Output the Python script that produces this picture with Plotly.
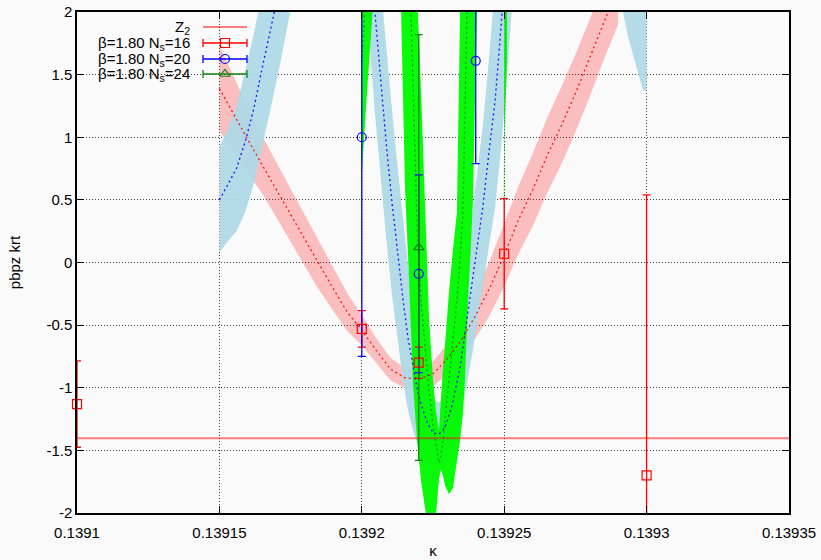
import plotly.graph_objects as go

# ---------------- data ----------------
z2_level = -1.404

# measured points (beta=1.80)
n16_kappa = [0.13910, 0.13920, 0.13922, 0.13925, 0.13930]
n16_value = [-1.13, -0.53, -0.80, 0.07, -1.70]
n16_error = [0.345, 0.145, 0.125, 0.44, 2.24]

n20_kappa = [0.13920, 0.13922, 0.13924]
n20_value = [1.00, -0.09, 1.61]
n20_error = [1.75, 0.79, 0.82]

n24_kappa = [0.13922]
n24_value = [0.12]
n24_error = [1.70]

# reweighted curve N_s=16 (centre and error)
rw16_kappa = [0.139150, 0.139155, 0.139160, 0.139165, 0.139170, 0.139175, 0.139180,
              0.139185, 0.139190, 0.139195, 0.139200, 0.139205, 0.139210, 0.139215,
              0.139220, 0.139225, 0.139230, 0.139235, 0.139240, 0.139245, 0.139250,
              0.139255, 0.139260, 0.139265, 0.139270, 0.139275, 0.139280, 0.139285,
              0.139290]
rw16_mid = [1.39, 1.18, 0.98, 0.78, 0.58, 0.38, 0.18, -0.02, -0.21, -0.40, -0.54,
            -0.70, -0.85, -0.92, -0.93, -0.89, -0.77, -0.62, -0.42, -0.20, 0.06,
            0.34, 0.58, 0.85, 1.09, 1.35, 1.63, 1.92, 2.20]
rw16_err = [0.34, 0.30, 0.26, 0.23, 0.22, 0.21, 0.21, 0.20, 0.18, 0.15, 0.12,
            0.10, 0.09, 0.08, 0.08, 0.10, 0.12, 0.15, 0.18, 0.22, 0.25,
            0.27, 0.29, 0.30, 0.31, 0.31, 0.31, 0.30, 0.30]

# reweighted curve N_s=20, three branches
rw20a_kappa = [0.139150, 0.139153, 0.139156, 0.139159, 0.139162, 0.139165,
               0.139168, 0.139171, 0.139175, 0.139180]
rw20a_mid = [0.50, 0.62, 0.75, 0.96, 1.22, 1.55, 1.85, 2.15, 2.60, 3.20]
rw20a_err = [0.42, 0.45, 0.50, 0.56, 0.60, 0.62, 0.62, 0.60, 0.60, 0.60]

rw20b_kappa = [0.1391994, 0.1392015, 0.1392032, 0.1392046, 0.1392064, 0.1392085,
               0.1392106, 0.1392124, 0.1392145, 0.1392162, 0.1392180, 0.1392197,
               0.1392215, 0.1392232, 0.1392250, 0.1392271, 0.1392292, 0.1392317,
               0.1392345, 0.1392369, 0.1392387, 0.1392404, 0.1392426, 0.1392447,
               0.1392468, 0.1392485, 0.1392503, 0.1392520, 0.1392538]
rw20b_mid = [4.09, 3.13, 2.41, 2.00, 1.49, 0.97, 0.48, 0.10, -0.30, -0.60, -0.84,
             -1.04, -1.18, -1.29, -1.36, -1.37, -1.32, -1.14, -0.84, -0.46, -0.18,
             0.10, 0.46, 0.89, 1.29, 1.77, 2.29, 2.81, 3.37]
rw20b_err = [0.80, 0.80, 0.80, 0.80, 0.78, 0.76, 0.74, 0.70, 0.65, 0.58, 0.50,
             0.42, 0.35, 0.30, 0.26, 0.25, 0.27, 0.33, 0.42, 0.50, 0.56,
             0.60, 0.65, 0.75, 0.85, 0.95, 1.00, 1.00, 1.00]

rw20c_kappa = [0.1392900, 0.1392917, 0.1392935, 0.1392952, 0.1392970, 0.1392987, 0.1393000]
rw20c_mid = [3.00, 2.90, 2.70, 2.56, 2.42, 2.28, 2.26]
rw20c_err = [0.90, 0.90, 0.90, 0.90, 0.90, 0.90, 0.90]

# reweighted curve N_s=24, three branches (centre, lower, upper)
rw24a_kappa = [0.1392000, 0.1392015, 0.1392030, 0.1392045, 0.1392060]
rw24a_mid = [1.60, 2.30, 2.90, 3.50, 4.10]
rw24a_lo = [0.69, 1.25, 1.81, 2.25, 2.73]
rw24a_hi = [2.50, 3.30, 4.00, 4.70, 5.40]

rw24b_kappa = [0.1392124, 0.1392138, 0.1392152, 0.1392166, 0.1392180, 0.1392194,
               0.1392208, 0.1392222, 0.1392236, 0.1392250, 0.1392261, 0.1392271,
               0.1392278, 0.1392285, 0.1392292, 0.1392306, 0.1392320, 0.1392334,
               0.1392345, 0.1392355, 0.1392362, 0.1392373, 0.1392383, 0.1392390,
               0.1392397, 0.1392404, 0.1392411]
rw24b_mid = [5.69, 4.49, 3.53, 2.49, 1.41, 0.30, -0.30, -0.66, -1.02, -1.30, -1.46,
             -1.60, -1.54, -1.42, -1.25, -0.94, -0.62, -0.30, 0.02, 0.38, 1.17,
             2.33, 3.69, 4.49, 5.29, 6.09, 6.88]
rw24b_lo = [3.05, 2.00, 0.58, -0.14, -0.98, -1.42, -1.74, -1.96, -2.14, -2.10, -2.00,
            -1.73, -1.65, -1.70, -1.78, -1.85, -1.80, -1.60, -1.42, -1.21, -0.94,
            -0.30, 0.14, 0.48, 1.21, 2.00, 2.73]
rw24b_hi = [7.68, 6.25, 4.89, 3.69, 2.81, 2.17, 1.37, 0.48, -0.45, -0.93, -1.20,
            -1.34, -1.04, -0.84, -0.66, -0.24, 0.10, 0.40, 2.00, 3.69, 4.49,
            5.45, 6.49, 7.04, 7.68, 8.16, 8.48]

rw24c_kappa = [0.1392500, 0.1392510]
rw24c_mid = [0.51, 4.00]
rw24c_lo = [1.00, 1.60]
rw24c_hi = [4.00, 4.50]

x_ticks = [0.1391, 0.13915, 0.1392, 0.13925, 0.1393, 0.13935]
x_tick_text = ["0.1391", "0.13915", "0.1392", "0.13925", "0.1393", "0.13935"]
y_ticks = [-2, -1.5, -1, -0.5, 0, 0.5, 1, 1.5, 2]
y_tick_text = ["-2", "-1.5", "-1", "-0.5", "0", "0.5", "1", "1.5", "2"]

legend_labels = ["Z<sub>2</sub>", "β=1.80 N<sub>s</sub>=16",
                 "β=1.80 N<sub>s</sub>=20", "β=1.80 N<sub>s</sub>=24"]

# ---------------- styles ----------------
FONT = "Liberation Sans, Arial, sans-serif"
RED = "rgb(255,0,0)"
BLUE = "rgb(0,0,255)"
GREEN_BAR = "rgb(20,130,20)"
PINK_FILL = "rgba(255,0,0,0.24)"
BLUE_FILL = "rgba(173,216,230,0.93)"
GREEN_FILL = "rgba(0,250,0,0.96)"

fig = go.Figure()


def band(kx, lo, hi, color):
    fig.add_trace(go.Scatter(
        x=list(kx) + list(kx)[::-1], y=list(hi) + list(lo)[::-1],
        fill="toself", fillcolor=color, mode="lines", line=dict(width=0),
        hoverinfo="skip", showlegend=False))


def centre(kx, mid, color, dash="2px,3px", width=1.3):
    fig.add_trace(go.Scatter(x=kx, y=mid, mode="lines",
                             line=dict(color=color, width=width, dash=dash),
                             hoverinfo="skip", showlegend=False))


# bands
band(rw16_kappa, [m - e for m, e in zip(rw16_mid, rw16_err)],
     [m + e for m, e in zip(rw16_mid, rw16_err)], PINK_FILL)
for kx, mid, err in [(rw20a_kappa, rw20a_mid, rw20a_err),
                     (rw20b_kappa, rw20b_mid, rw20b_err),
                     (rw20c_kappa, rw20c_mid, rw20c_err)]:
    band(kx, [m - e for m, e in zip(mid, err)], [m + e for m, e in zip(mid, err)], BLUE_FILL)
for kx, lo, hi in [(rw24a_kappa, rw24a_lo, rw24a_hi),
                   (rw24b_kappa, rw24b_lo, rw24b_hi),
                   (rw24c_kappa, rw24c_lo, rw24c_hi)]:
    band(kx, lo, hi, GREEN_FILL)

# centre lines
centre(rw16_kappa, rw16_mid, "rgba(255,0,0,0.9)")
for kx, mid in [(rw20a_kappa, rw20a_mid), (rw20b_kappa, rw20b_mid), (rw20c_kappa, rw20c_mid)]:
    centre(kx, mid, "rgba(0,0,255,0.9)")
for kx, mid in [(rw24a_kappa, rw24a_mid), (rw24b_kappa, rw24b_mid)]:
    centre(kx, mid, "rgba(0,90,0,0.55)")
centre(rw24c_kappa, rw24c_mid, "rgba(0,200,0,0.9)", dash="2px,2px", width=1)

# Z2 line
fig.add_trace(go.Scatter(x=[x_ticks[0], x_ticks[-1]], y=[z2_level, z2_level], mode="lines",
                         line=dict(color="rgba(255,0,0,0.5)", width=2),
                         hoverinfo="skip", showlegend=False))

# error bars (clipped) then markers (unclipped)
for kx, val, err, col in [(n16_kappa, n16_value, n16_error, RED),
                          (n20_kappa, n20_value, n20_error, BLUE),
                          (n24_kappa, n24_value, n24_error, GREEN_BAR)]:
    fig.add_trace(go.Scatter(
        x=kx, y=val, mode="markers", marker=dict(size=1, opacity=0),
        error_y=dict(type="data", array=err, visible=True, color=col, thickness=1.3, width=4),
        hoverinfo="skip", showlegend=False, cliponaxis=True))
for kx, val, col, sym in [(n16_kappa, n16_value, RED, "square-open"),
                          (n20_kappa, n20_value, BLUE, "circle-open"),
                          (n24_kappa, n24_value, GREEN_BAR, "triangle-up-open")]:
    inside = [(k, v) for k, v in zip(kx, val) if -2 <= v <= 2]
    fig.add_trace(go.Scatter(
        x=[p[0] for p in inside], y=[p[1] for p in inside], mode="markers",
        marker=dict(symbol=sym, size=9, color=col, line=dict(color=col, width=1.2)),
        hoverinfo="skip", showlegend=False, cliponaxis=False))

# ---------------- legend (drawn on a pixel-unit overlay axis) ----------------
leg_rows = [27, 43, 59, 74]
leg_text_x = 192
leg_x0, leg_x1 = 203, 247
leg_mid = (leg_x0 + leg_x1) / 2
fig.add_trace(go.Scatter(x=[leg_x0, leg_x1], y=[leg_rows[0]] * 2, mode="lines",
                         line=dict(color="rgba(255,0,0,0.5)", width=2),
                         xaxis="x2", yaxis="y2", hoverinfo="skip", showlegend=False))
for row, col, sym in [(leg_rows[1], RED, "square-open"), (leg_rows[2], BLUE, "circle-open"),
                      (leg_rows[3], GREEN_BAR, "triangle-up-open")]:
    fig.add_trace(go.Scatter(
        x=[leg_mid], y=[row], mode="markers",
        marker=dict(symbol=sym, size=9, color=col, line=dict(color=col, width=1.2)),
        error_x=dict(type="constant", value=(leg_x1 - leg_x0) / 2, color=col,
                     thickness=1.3, width=4),
        xaxis="x2", yaxis="y2", hoverinfo="skip", showlegend=False))
annotations = []
for row, label in zip(leg_rows, legend_labels):
    annotations.append(dict(x=leg_text_x, y=row, xref="x2", yref="y2", text=label,
                            showarrow=False, xanchor="right", yanchor="middle",
                            font=dict(family=FONT, size=15, color="black")))

axis_common = dict(ticks="inside", ticklen=7, tickcolor="black", tickwidth=1,
                   showline=True, linecolor="black", linewidth=1.5, mirror="ticks",
                   showgrid=True, gridcolor="rgba(0,0,0,0.75)", gridwidth=1,
                   griddash="1px,2px", zeroline=False, automargin=False,
                   tickfont=dict(family=FONT, size=15, color="black"))

fig.update_layout(
    width=821, height=560,
    margin=dict(l=77, r=32, t=12, b=47),
    paper_bgcolor="#fafafa", plot_bgcolor="#fafafa",
    showlegend=False,
    font=dict(family=FONT, size=15, color="black"),
    xaxis=dict(range=[x_ticks[0], x_ticks[-1]], tickvals=x_ticks, ticktext=x_tick_text,
               ticklabelstandoff=5,
               title=dict(text="κ", font=dict(family=FONT, size=15), standoff=6),
               **axis_common),
    yaxis=dict(range=[-2, 2], tickvals=y_ticks, ticktext=y_tick_text,
               title=dict(text="pbpz krt", font=dict(family=FONT, size=15), standoff=22),
               **axis_common),
    xaxis2=dict(range=[77, 789], overlaying="x", anchor="y2", visible=False, automargin=False),
    yaxis2=dict(range=[513, 12], overlaying="y", anchor="x2", visible=False, automargin=False),
    annotations=annotations,
)

fig.write_html("out.html")
